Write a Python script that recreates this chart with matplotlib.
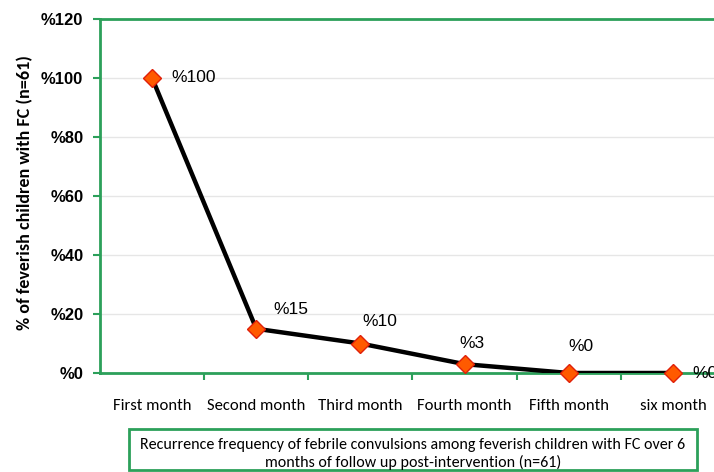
import matplotlib.pyplot as plt
from matplotlib.patches import Rectangle

months = ["First month", "Second month", "Third month", "Fourth month", "Fifth month", "six month"]
values = [100, 15, 10, 3, 0, 0]
labels = ["%100", "%15", "%10", "%3", "%0", "%0"]
yticks = [0, 20, 40, 60, 80, 100, 120]

# label offsets in points (dx, dy, ha)
offsets = [(14, 0, "left"), (25, 14, "center"), (14, 16, "center"),
           (5, 15, "center"), (9, 19, "center"), (14, 0, "left")]

GREEN = "#2ca05a"
narrow = ["Carlito", "DejaVu Sans"]

fig = plt.figure(figsize=(7.14, 4.72), dpi=100)
ax = fig.add_axes([100 / 714, 1 - 373 / 472, 625 / 714, 354 / 472])

x = list(range(len(months)))
ax.plot(x, values, color="black", lw=3.2, zorder=3)
ax.plot(x, values, ls="none", marker="D", ms=9, mfc="#ff5a00", mec="#e0200a",
        mew=1, zorder=4, clip_on=False)

for xi, v, lab, (dx, dy, ha) in zip(x, values, labels, offsets):
    ax.annotate(lab, (xi, v), xytext=(dx, dy), textcoords="offset points",
                ha=ha, va="center", fontsize=12.5, family="Liberation Sans",
                annotation_clip=False)

ax.set_xlim(-0.5, len(months) - 0.5)
ax.set_ylim(0, 120)
ax.set_yticks(yticks)
ax.set_yticklabels([f"%{t}" for t in yticks], fontsize=12, fontweight="bold",
                   family="Liberation Sans")
ax.set_xticks(x)
ax.set_xticklabels(months, fontsize=12, family=narrow)
ax.set_xticks([i + 0.5 for i in x[:-1]], minor=True)
ax.tick_params(axis="x", which="major", length=0, pad=19)
ax.tick_params(axis="x", which="minor", length=5, color=GREEN, width=1.5, direction="out")
ax.tick_params(axis="y", length=5, color=GREEN, width=1.5, pad=7)

ax.grid(axis="y", color="#e6e6e6", lw=1)
ax.set_axisbelow(True)
for s in ax.spines.values():
    s.set_color(GREEN)
    s.set_linewidth(2)

ax.set_ylabel("% of feverish children with FC (n=61)", fontsize=13,
              fontweight="bold", family=narrow)
ax.yaxis.set_label_coords(-0.107, 0.51)

box = Rectangle((129 / 714, 2 / 472), 568 / 714, 41 / 472, transform=fig.transFigure,
                fill=False, edgecolor=GREEN, lw=2)
fig.patches.append(box)
fig.text(413 / 714, 1 - 445 / 472,
         "Recurrence frequency of febrile convulsions among feverish children with FC over 6",
         ha="center", va="center", fontsize=11.5, family=narrow)
fig.text(413 / 714, 1 - 462 / 472, "months of follow up post-intervention (n=61)",
         ha="center", va="center", fontsize=11.5, family=narrow)

fig.savefig("out.png", dpi=100)
